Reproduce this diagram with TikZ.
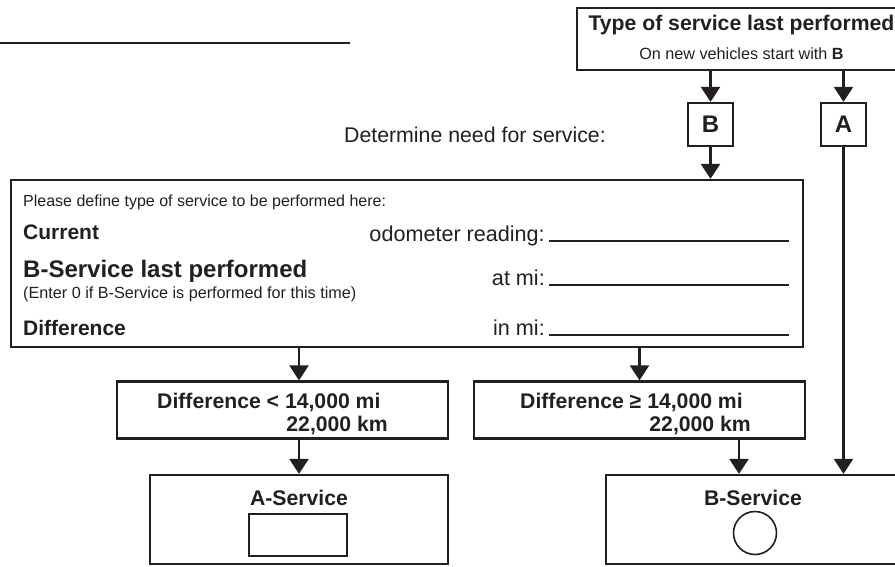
\documentclass[tikz,border=0pt]{standalone}
\usepackage{fontspec}
\setmainfont{Liberation Sans}
\usetikzlibrary{positioning,arrows.meta}
\definecolor{ink}{RGB}{35,31,32}

\begin{document}
\begin{tikzpicture}[x=1pt, y=-1pt,
    box/.style={draw=ink, line width=2.2pt, inner sep=0pt, text=ink},
    txt/.style={text=ink, inner sep=0pt},
    arr/.style={draw=ink, line width=2.2pt, -{Triangle[length=15pt,width=19pt]}},
    blank/.style={draw=ink, line width=2pt}
  ]
      \useasboundingbox (0,0) rectangle (895,566);
      % Nodes
      \node (top) [box, minimum width=329pt, minimum height=62pt] at (741.5,39) {};
      \node (title) [txt, anchor=base, font=\fontsize{21.2}{24}\selectfont\bfseries] at (741.5,30) {Type of service last performed};
      \node (newveh) [txt, anchor=base, font=\fontsize{16.2}{18}\selectfont] at (741.5,59) {On new vehicles start with \textbf{B}};
      \node (bbox) [box, minimum width=45pt, minimum height=43pt, font=\fontsize{24}{26}\selectfont\bfseries] at (710.5,124.5) {B};
      \node (abox) [box, minimum width=45pt, minimum height=43pt, font=\fontsize{24}{26}\selectfont\bfseries] at (843.5,124.5) {A};
      \node (need) [txt, anchor=base east, font=\fontsize{21.3}{24}\selectfont] at (606,142) {Determine need for service:};
      \node (form) [box, minimum width=792pt, minimum height=167pt] at (407,263.5) {};
      \node (please) [txt, anchor=base west, font=\fontsize{16}{18}\selectfont] at (23,206) {Please define type of service to be performed here:};
      \node (current) [txt, anchor=base west, font=\fontsize{21}{24}\selectfont\bfseries] at (23,239) {Current};
      \node (blast) [txt, anchor=base west, font=\fontsize{24}{26}\selectfont\bfseries] at (23,277) {B-Service last performed};
      \node (enter) [txt, anchor=base west, font=\fontsize{16.2}{18}\selectfont] at (23,298) {(Enter 0 if B-Service is performed for this time)};
      \node (diff) [txt, anchor=base west, font=\fontsize{21}{24}\selectfont\bfseries] at (23,335) {Difference};
      \node (odo) [txt, anchor=base east, font=\fontsize{21.6}{24}\selectfont] at (545,241) {odometer reading:};
      \node (atmi) [txt, anchor=base east, font=\fontsize{21.6}{24}\selectfont] at (545,285) {at mi:};
      \node (inmi) [txt, anchor=base east, font=\fontsize{21.6}{24}\selectfont] at (545,335) {in mi:};
      \node (dless) [box, minimum width=331pt, minimum height=57pt] at (282.5,410) {};
      \node (dmore) [box, minimum width=331pt, minimum height=57pt] at (639.5,410) {};
      \node (dless1) [txt, anchor=base west, font=\fontsize{21.2}{24}\selectfont\bfseries] at (157,408) {Difference < 14,000 mi};
      \node (dless2) [txt, anchor=base east, font=\fontsize{21.2}{24}\selectfont\bfseries] at (388,431) {22,000 km};
      \node (dmore1) [txt, anchor=base west, font=\fontsize{21.2}{24}\selectfont\bfseries] at (520,408) {Difference ≥ 14,000 mi};
      \node (dmore2) [txt, anchor=base east, font=\fontsize{21.2}{24}\selectfont\bfseries] at (751,431) {22,000 km};
      \node (aserv) [box, minimum width=298pt, minimum height=89pt] at (299,519.5) {};
      \node (aservt) [txt, anchor=base, font=\fontsize{21.2}{24}\selectfont\bfseries] at (299,505) {A-Service};
      \node (aslot) [draw=ink, line width=1.6pt, inner sep=0pt, minimum width=98pt, minimum height=42pt] at (298,535) {};
      \node (bserv) [box, minimum width=298pt, minimum height=89pt] at (755,519.5) {};
      \node (bservt) [txt, anchor=base, font=\fontsize{21.2}{24}\selectfont\bfseries] at (753,505) {B-Service};
      \node (bslot) [circle, draw=ink, line width=1.6pt, inner sep=0pt, minimum size=43pt] at (755,533) {};
      \coordinate (dm) at ([xshift=99.5pt]dmore.south);

      % Lines to fill in
      \draw[blank, line width=2.5pt] (0,43) -- (350,43);
      \foreach \f/\y in {odo/241, atmi/285, inmi/335}
        \draw[blank] ([xshift=4pt]\f.base east) -- (789,\y);

      % Arrows
      \draw[arr] (top.south -| bbox) -- (bbox);
      \draw[arr] (top.south -| abox) -- (abox);
      \draw[arr] (bbox) -- (bbox |- form.north);
      \draw[arr] (abox) -- (abox |- bserv.north);
      \draw[arr] (form.south -| aserv) -- (aserv |- dless.north);
      \draw[arr] (form.south -| dmore) -- (dmore);
      \draw[arr] (aserv |- dless.south) -- (aserv);
      \draw[arr] (dm) -- (dm |- bserv.north);
  \end{tikzpicture}
\end{document}
